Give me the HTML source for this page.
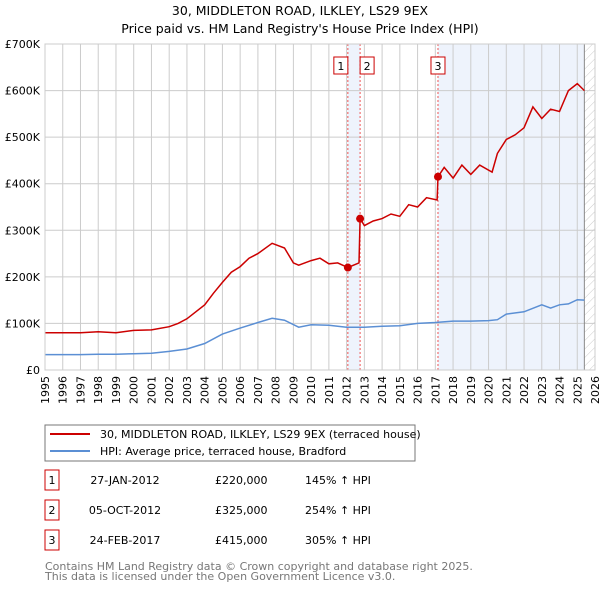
<!DOCTYPE html>
<html><head><meta charset="utf-8"><style>
body{margin:0;background:#fff;font-family:"DejaVu Sans","Liberation Sans",sans-serif;}
#wrap{position:relative;width:600px;height:590px;overflow:hidden;}
</style></head><body><div id="wrap">
<svg id="svg" width="600" height="590" xmlns="http://www.w3.org/2000/svg" font-family="DejaVu Sans, Liberation Sans, sans-serif">
<defs><pattern id="hatch" width="6" height="6" patternUnits="userSpaceOnUse" patternTransform="rotate(45)"><line x1="0" y1="0" x2="0" y2="6" stroke="#ccc" stroke-width="1"/></pattern></defs>
<text x="300" y="15" text-anchor="middle" font-size="12.5">30, MIDDLETON ROAD, ILKLEY, LS29 9EX</text>
<text x="300" y="33" text-anchor="middle" font-size="12.5">Price paid vs. HM Land Registry's House Price Index (HPI)</text>
<g id="plot"></g>
<rect x="45" y="425" width="370" height="36" fill="#fff" stroke="#777"/>
<line x1="50" y1="434" x2="90" y2="434" stroke="#cc0000" stroke-width="2"/>
<text x="100" y="438" font-size="11">30, MIDDLETON ROAD, ILKLEY, LS29 9EX (terraced house)</text>
<line x1="50" y1="451" x2="90" y2="451" stroke="#5b8fd4" stroke-width="2"/>
<text x="100" y="455" font-size="11">HPI: Average price, terraced house, Bradford</text>
<g id="table" font-size="11"></g>
<text x="45" y="570" font-size="11" fill="#777">Contains HM Land Registry data © Crown copyright and database right 2025.</text>
<text x="45" y="580" font-size="11" fill="#777">This data is licensed under the Open Government Licence v3.0.</text>
</svg></div>
<script>
const hpiYears=[1995,1996,1997,1998,1999,2000,2001,2002,2003,2004,2005,2006,2007,2007.8,2008.5,2009.3,2010,2011,2012,2013,2014,2015,2016,2017,2018,2019,2020,2020.5,2021,2022,2023,2023.5,2024,2024.5,2025,2025.4];
const hpiValues=[33,33,33,34,34,35,36,40,45,57,77,90,102,111,107,92,97,96,92,92,94,95,100,102,105,105,106,108,120,125,140,133,140,142,151,150];
const redYears=[1995,1996,1997,1998,1999,2000,2001,2002,2002.5,2003,2004,2004.5,2005,2005.5,2006,2006.5,2007,2007.8,2008.5,2009,2009.3,2010,2010.5,2011,2011.5,2012.07,2012.7,2012.76,2013,2013.5,2014,2014.5,2015,2015.5,2016,2016.5,2017.1,2017.15,2017.5,2018,2018.5,2019,2019.5,2020.2,2020.5,2021,2021.5,2022,2022.5,2023,2023.5,2024,2024.5,2025,2025.4];
const redValues=[80,80,80,82,80,85,86,93,100,110,140,165,188,210,222,240,250,272,262,230,225,235,240,228,230,220,230,325,310,320,325,335,330,355,350,370,365,415,435,412,440,420,440,425,465,495,505,520,565,540,560,555,600,615,600];
const saleYears=[2012.07,2012.76,2017.15];
const saleValues=[220,325,415];
const saleLabels=["1","2","3"];
const saleDates=["27-JAN-2012","05-OCT-2012","24-FEB-2017"];
const salePrices=["£220,000","£325,000","£415,000"];
const saleHpi=["145% ↑ HPI","254% ↑ HPI","305% ↑ HPI"];
const yTicks=[0,100,200,300,400,500,600,700];
const yTickLabels=["£0","£100K","£200K","£300K","£400K","£500K","£600K","£700K"];
const xTicks=[1995,1996,1997,1998,1999,2000,2001,2002,2003,2004,2005,2006,2007,2008,2009,2010,2011,2012,2013,2014,2015,2016,2017,2018,2019,2020,2021,2022,2023,2024,2025,2026];
const dataEnd=2025.4;
const NS="http://www.w3.org/2000/svg";
const X0=45,X1=595,Y0=370,Y1=44;
const sx=y=>X0+(y-1995)/(2026-1995)*(X1-X0);
const sy=v=>Y0-v/700*(Y0-Y1);
const plot=document.getElementById('plot');
function mk(t,a,p){const e=document.createElementNS(NS,t);for(const k in a)e.setAttribute(k,a[k]);(p||plot).appendChild(e);return e;}
let e;
e=mk('rect',{x:X0,y:Y1,width:X1-X0,height:Y0-Y1,fill:'#fff'});


e=mk('rect',{x:sx(saleYears[0]),y:Y1,width:sx(saleYears[1])-sx(saleYears[0]),height:Y0-Y1,fill:'#eef3fc'});


e=mk('rect',{x:sx(saleYears[2]),y:Y1,width:sx(dataEnd)-sx(saleYears[2]),height:Y0-Y1,fill:'#eef3fc'});


e=mk('rect',{x:sx(dataEnd),y:Y1,width:X1-sx(dataEnd),height:Y0-Y1,fill:'url(#hatch)'});


xTicks.forEach(t=>{e=mk('line',{x1:sx(t),x2:sx(t),y1:Y1,y2:Y0,stroke:'#ccc'});


e=mk('text',{x:0,y:0,'font-size':11,'text-anchor':'end',transform:`translate(${sx(t)+4},${Y0+6}) rotate(-90)`});e.textContent=t;

});
yTicks.forEach((t,i)=>{e=mk('line',{x1:X0,x2:X1,y1:sy(t),y2:sy(t),stroke:'#ccc'});


e=mk('text',{x:X0-5,y:sy(t)+4,'font-size':11,'text-anchor':'end'});e.textContent=yTickLabels[i];

});
e=mk('line',{x1:sx(dataEnd),x2:sx(dataEnd),y1:Y1,y2:Y0,stroke:'#888'});


saleYears.forEach((s,i)=>{e=mk('line',{x1:sx(s),x2:sx(s),y1:Y1,y2:Y0,stroke:'#e55','stroke-dasharray':'2,2'});

});
const pth=(xs,vs)=>xs.map((x,i)=>(i?'L':'M')+sx(x).toFixed(1)+','+sy(vs[i]).toFixed(1)).join('');
e=mk('path',{d:pth(hpiYears,hpiValues),fill:'none',stroke:'#5b8fd4','stroke-width':1.5});


e=mk('path',{d:pth(redYears,redValues),fill:'none',stroke:'#cc0000','stroke-width':1.5});


const bx=[-14,0,-7];
saleYears.forEach((s,i)=>{e=mk('circle',{cx:sx(s),cy:sy(saleValues[i]),r:4,fill:'#cc0000'});


const x=sx(s)+bx[i];
e=mk('rect',{x:x,y:57,width:14,height:17,fill:'#fff',stroke:'#cc0000'});


e=mk('text',{x:x+7,y:70,'font-size':11,'text-anchor':'middle'});e.textContent=saleLabels[i];

});
e=mk('rect',{x:X0,y:Y1,width:X1-X0,height:Y0-Y1,fill:'none',stroke:'#ccc'});


const tb=document.getElementById('table');
saleLabels.forEach((l,i)=>{const y=483+30*i;
e=mk('rect',{x:45,y:y-13,width:14,height:20,fill:'#fff',stroke:'#cc0000'},tb);


[[52,l,'middle'],[125,saleDates[i],'middle'],[215,salePrices[i],'start'],[305,saleHpi[i],'start']].forEach(c=>{
e=mk('text',{x:c[0],y:y+1,'text-anchor':c[2]},tb);e.textContent=c[1];

});});
</script></body></html>
